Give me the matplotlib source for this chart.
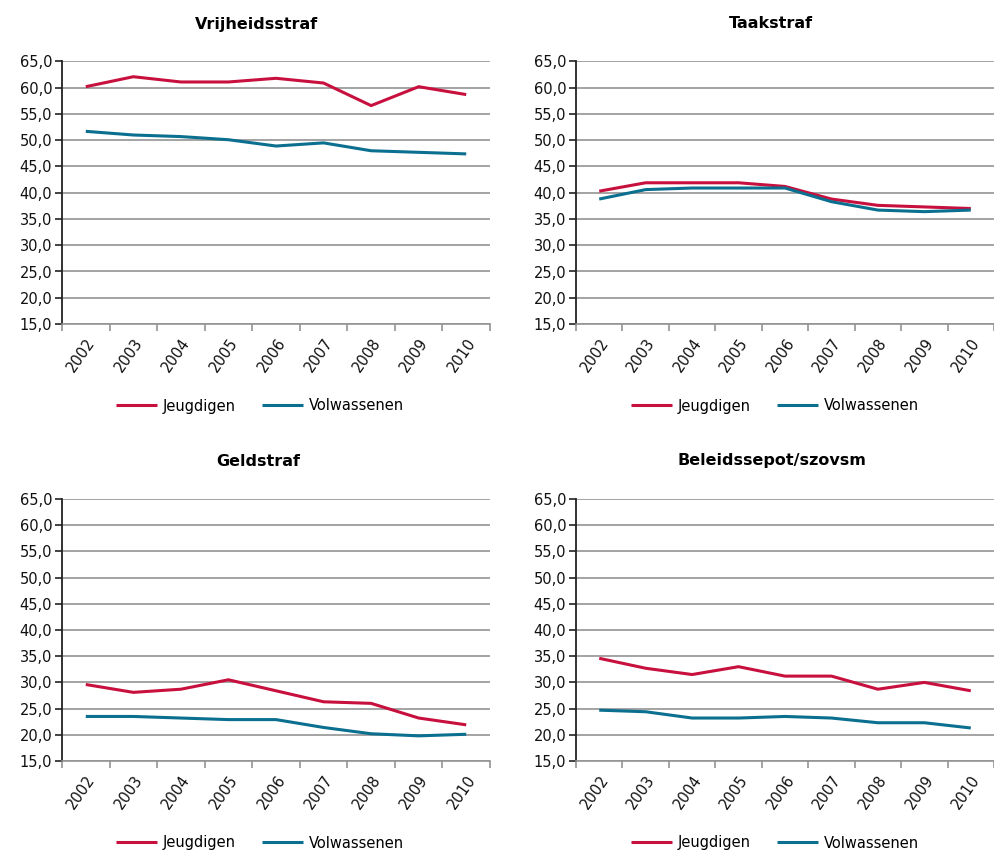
import matplotlib
matplotlib.use("Agg")
import matplotlib.pyplot as plt
from matplotlib.ticker import FuncFormatter, FixedLocator

years = ["2002", "2003", "2004", "2005", "2006", "2007", "2008", "2009", "2010"]
series_names = ["Jeugdigen", "Volwassenen"]
titles = ["Vrijheidsstraf", "Taakstraf", "Geldstraf", "Beleidssepot/szovsm"]

vrijheid_jeugd = [60.2, 62.1, 61.1, 61.1, 61.8, 60.9, 56.6, 60.2, 58.7]
vrijheid_volw = [51.7, 51.0, 50.7, 50.1, 48.9, 49.5, 48.0, 47.7, 47.4]
taak_jeugd = [40.3, 41.9, 41.9, 41.9, 41.2, 38.8, 37.6, 37.3, 37.0]
taak_volw = [38.8, 40.6, 40.9, 40.9, 40.9, 38.3, 36.7, 36.4, 36.7]
geld_jeugd = [29.6, 28.1, 28.7, 30.5, 28.4, 26.3, 26.0, 23.2, 21.9]
geld_volw = [23.5, 23.5, 23.2, 22.9, 22.9, 21.4, 20.2, 19.8, 20.1]
beleid_jeugd = [34.6, 32.7, 31.5, 33.0, 31.2, 31.2, 28.7, 30.0, 28.4]
beleid_volw = [24.7, 24.4, 23.2, 23.2, 23.5, 23.2, 22.3, 22.3, 21.3]

yticks = [15, 20, 25, 30, 35, 40, 45, 50, 55, 60, 65]

panels = [
    (titles[0], vrijheid_jeugd, vrijheid_volw),
    (titles[1], taak_jeugd, taak_volw),
    (titles[2], geld_jeugd, geld_volw),
    (titles[3], beleid_jeugd, beleid_volw),
]

RED = "#C8103E"
BLUE = "#0B6F8F"
GRID = "#949494"

W, H = 995, 850
fig = plt.figure(figsize=(W / 100, H / 100), dpi=100)
plt.rcParams['font.family'] = ['DejaVu Sans']

# pixel layout: (left, right, top, bottom)
boxes = [
    (62, 490, 61.5, 324),
    (576, 994, 61.5, 324),
    (62, 490, 499, 761),
    (576, 994, 499, 761),
]
title_pos = [(257, 24), (771, 24), (258, 461), (772, 461)]
legend_pos = [(260, 406), (775, 406), (260, 843), (775, 843)]

for (title, jeugd, volw), (l, r, t, b), (tx, ty), (lx, ly) in zip(panels, boxes, title_pos, legend_pos):
    ax = fig.add_axes([l / W, 1 - b / H, (r - l) / W, (b - t) / H])
    x = list(range(len(years)))
    ax.plot(x, jeugd, color=RED, lw=2.2, label=series_names[0], solid_capstyle='butt')
    ax.plot(x, volw, color=BLUE, lw=2.2, label=series_names[1], solid_capstyle='butt')
    ax.set_xlim(-0.5, len(years) - 0.5)
    ax.set_ylim(15, 65)
    ax.set_yticks(yticks)
    ax.yaxis.set_major_formatter(FuncFormatter(lambda v, p: f"{v:.1f}".replace(".", ",")))
    ax.grid(axis='y', color=GRID, lw=1.2)
    ax.set_axisbelow(True)
    for s in ['top', 'right']:
        ax.spines[s].set_visible(False)
    ax.spines['left'].set_color('#222222')
    ax.spines['left'].set_linewidth(1.3)
    ax.spines['bottom'].set_color(GRID)
    ax.spines['bottom'].set_linewidth(1.2)
    ax.tick_params(axis='y', length=5, width=1.2, color='#222222', labelsize=10.5, pad=2, labelcolor='#111111')
    ax.set_xticks(x)
    ax.set_xticklabels(years, rotation=55, ha='right', va='top', rotation_mode='anchor', fontsize=10.5, color='#111111')
    ax.tick_params(axis='x', which='major', length=0, pad=8)
    ax.xaxis.set_minor_locator(FixedLocator([i - 0.5 for i in range(len(years) + 1)]))
    ax.tick_params(axis='x', which='minor', length=5, width=1.2, color=GRID)
    fig.text(tx / W, 1 - ty / H, title, ha='center', va='center', fontsize=11.5, fontweight='bold')
    ax.legend(loc='center', bbox_to_anchor=(lx / W, 1 - ly / H), bbox_transform=fig.transFigure,
              ncol=2, frameon=False, fontsize=10.5, handlelength=2.8, handletextpad=0.4,
              columnspacing=1.8, borderpad=0)

fig.savefig("out.png", dpi=100)
